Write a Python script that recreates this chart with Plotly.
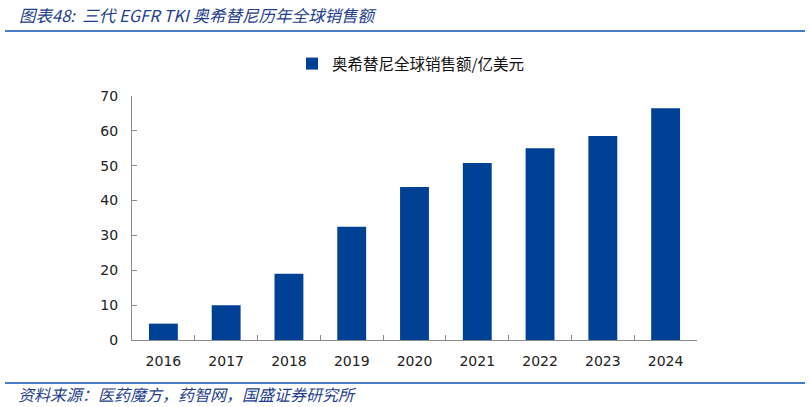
import plotly.graph_objects as go

years = ["2016", "2017", "2018", "2019", "2020", "2021", "2022", "2023", "2024"]
sales = [4.7, 10.0, 19.0, 32.5, 43.9, 50.8, 55.0, 58.5, 66.5]
series_name = "奥希替尼全球销售额/亿美元"
title_text = "图表48:  三代 EGFR TKI 奥希替尼历年全球销售额"
source_text = "资料来源：医药魔方，药智网，国盛证券研究所"

W, H = 810, 407
L, R, T, B = 132, 113, 96, 67
pw, ph = W - L - R, H - T - B


def px_x(p):
    return (p - L) / pw


def px_y(p):
    return (H - B - p) / ph


cjk = "Noto Sans CJK SC"
navy = "#1f3f8f"

fig = go.Figure(go.Bar(
    x=years, y=sales, name=series_name,
    marker=dict(color="#004196", line=dict(width=0)),
    showlegend=True,
))

fig.update_layout(
    width=W, height=H,
    margin=dict(l=L, r=R, t=T, b=B),
    plot_bgcolor="white", paper_bgcolor="white",
    bargap=0.54,
    font=dict(family="DejaVu Sans", size=14, color="#222"),
    legend=dict(
        x=px_x(292), y=px_y(47), xanchor="left", yanchor="top",
        orientation="h",
        font=dict(family=cjk, size=15.5, color="#111"),
        bgcolor="rgba(0,0,0,0)",
        itemwidth=30,
    ),
    xaxis=dict(
        showline=True, linecolor="#8c8c8c", linewidth=1,
        ticks="inside", tickson="boundaries", ticklen=5, tickcolor="#8c8c8c",
        ticklabelstandoff=8,
        showgrid=False,
    ),
    yaxis=dict(
        range=[0, 70], dtick=10,
        showline=True, linecolor="#8c8c8c", linewidth=1,
        ticks="inside", ticklen=5, tickcolor="#8c8c8c",
        ticklabelstandoff=10,
        showgrid=False, zeroline=False,
    ),
    shapes=[
        dict(type="line", xref="paper", yref="paper",
             x0=px_x(5), x1=px_x(805), y0=px_y(31), y1=px_y(31),
             line=dict(color="#4a7cc4", width=2)),
        dict(type="line", xref="paper", yref="paper",
             x0=px_x(5), x1=px_x(805), y0=px_y(383), y1=px_y(383),
             line=dict(color="#4a7cc4", width=2)),
    ],
    annotations=[
        dict(text="<i>" + title_text + "</i>", xref="paper", yref="paper",
             x=px_x(17), y=px_y(15), xanchor="left", yanchor="middle",
             showarrow=False, font=dict(family=cjk, size=16.5, color=navy)),
        dict(text="<i>" + source_text + "</i>", xref="paper", yref="paper",
             x=px_x(16), y=px_y(394), xanchor="left", yanchor="middle",
             showarrow=False, font=dict(family=cjk, size=16, color=navy)),
    ],
)

fig.write_html("out.html", config={"displayModeBar": False},
               post_script="document.body.style.margin='0';")
